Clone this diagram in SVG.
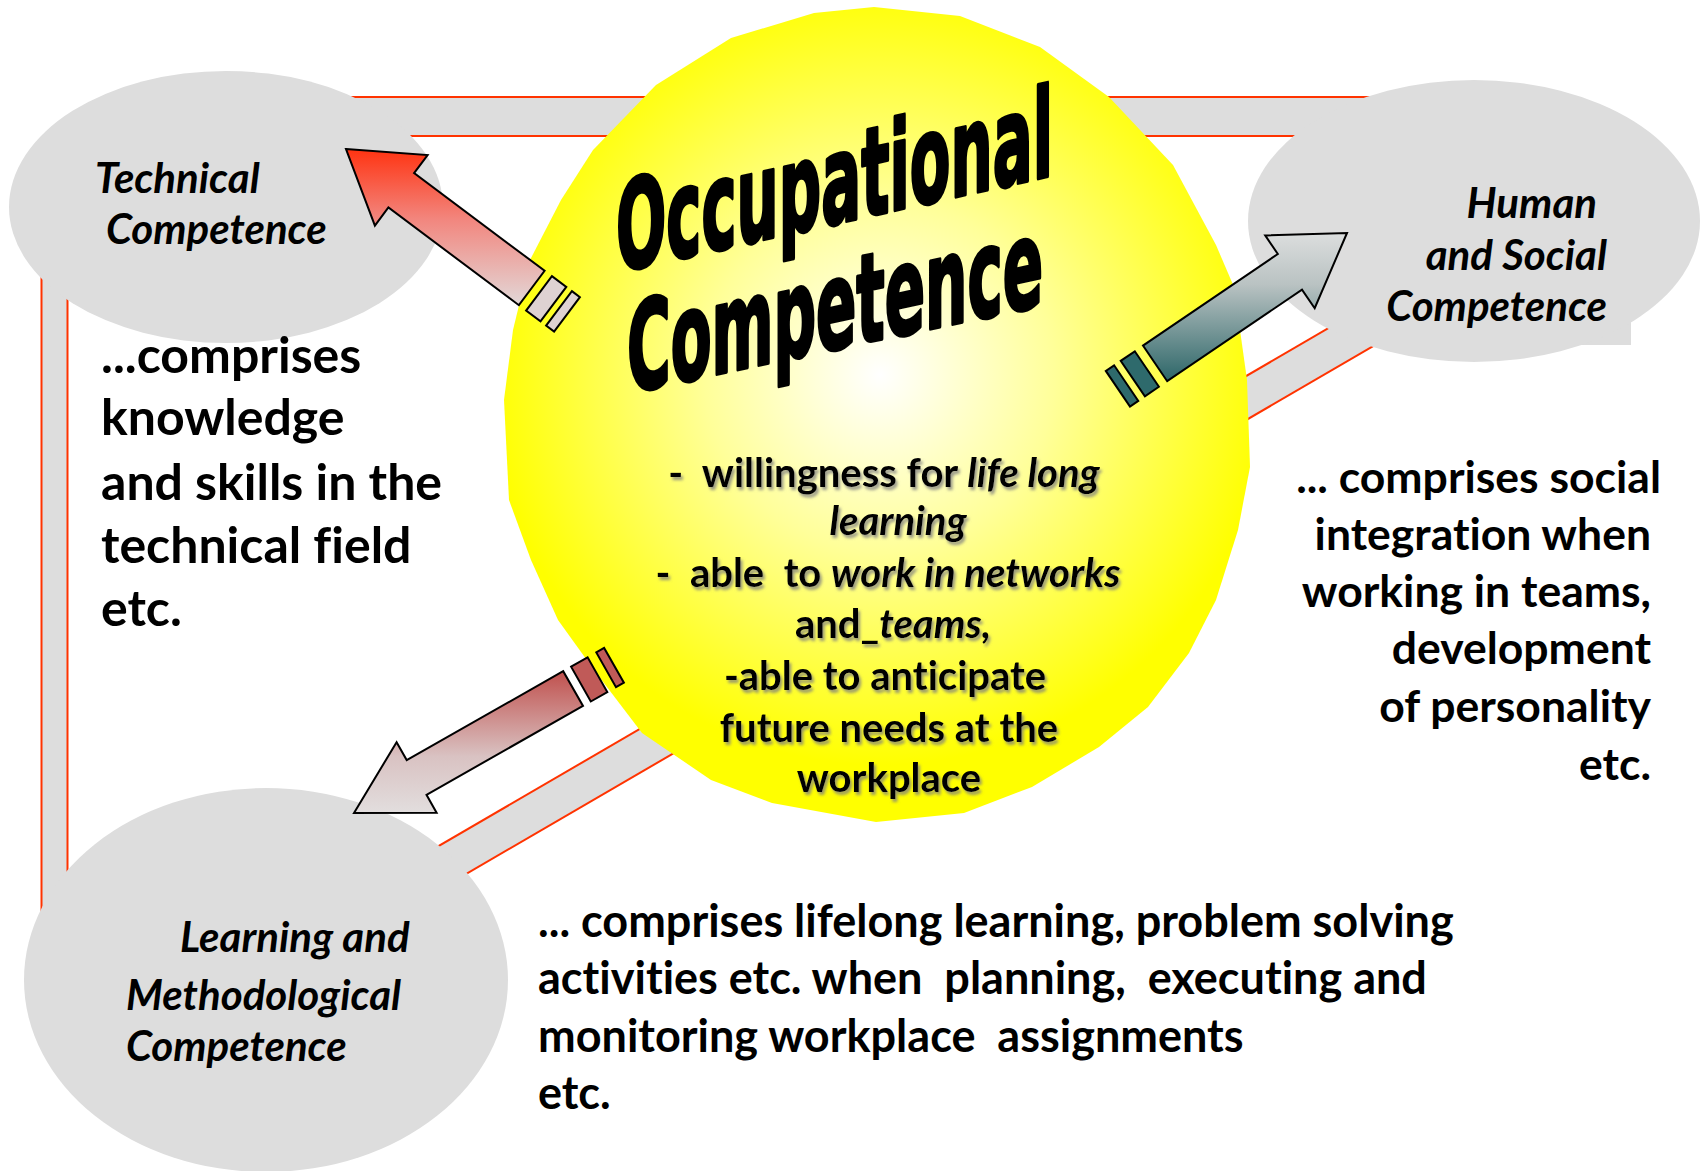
<svg xmlns="http://www.w3.org/2000/svg" width="1705" height="1171" viewBox="0 0 1705 1171">
<defs>
<style>
.band-edge{fill:none;stroke:#FF3300;stroke-linecap:butt}
.band-fill{fill:none;stroke:#DDDDDD;stroke-linecap:butt}
.bubble{fill:#DDDDDD}
.lbl{font-family:Lato,"Open Sans","Liberation Sans",sans-serif;font-weight:700;font-style:italic;font-size:42px;fill:#000;font-variant-ligatures:none}
.body{font-family:Lato,"Open Sans","Liberation Sans",sans-serif;font-weight:700;fill:#000;font-variant-ligatures:none}
.title{font-family:"DejaVu Sans","Liberation Sans",sans-serif;font-weight:700;font-size:123px;fill:#000;stroke:#000;stroke-width:4;stroke-linejoin:round}
.arrow{stroke:#000;stroke-width:2;stroke-linejoin:miter}
.it{font-style:italic}
</style>
<radialGradient id="glow" gradientUnits="userSpaceOnUse" cx="880" cy="375" r="390">
<stop offset="0" stop-color="#FFFFFF"/>
<stop offset="0.45" stop-color="#FFFF99"/>
<stop offset="1" stop-color="#FFFF00"/>
</radialGradient>
<linearGradient id="gRed" x1="0" y1="0" x2="0" y2="1">
<stop offset="0" stop-color="#FF3311"/>
<stop offset="0.45" stop-color="#F2867E"/>
<stop offset="1" stop-color="#E2D8D8"/>
</linearGradient>
<linearGradient id="gTeal" x1="0" y1="0" x2="0" y2="1">
<stop offset="0" stop-color="#DCDEDE"/>
<stop offset="0.35" stop-color="#B9C2C2"/>
<stop offset="1" stop-color="#2C6668"/>
</linearGradient>
<linearGradient id="gBrown" x1="0" y1="0" x2="0" y2="1">
<stop offset="0" stop-color="#C0504D"/>
<stop offset="0.6" stop-color="#D9C2C2"/>
<stop offset="1" stop-color="#E2DEDE"/>
</linearGradient>
<filter id="shadow" x="-10%" y="-30%" width="120%" height="160%">
<feDropShadow dx="2" dy="3" stdDeviation="1.5" flood-color="#7F7F7F" flood-opacity="0.8"/>
</filter>
</defs>
<rect width="1705" height="1171" fill="#FFFFFF"/>

<g id="frame">
<path class="band-edge" stroke-width="41" d="M200,116.5 H1500"/>
<path class="band-fill" stroke-width="37" d="M200,116.5 H1500"/>
<path class="band-edge" stroke-width="28" d="M54.5,220 V1000"/>
<path class="band-fill" stroke-width="24" d="M54.5,220 V1000"/>
<path class="band-edge" stroke-width="40" d="M350,919.6 L1450,279.4"/>
<path class="band-fill" stroke-width="36" d="M350,919.6 L1450,279.4"/>
</g>

<g id="node-technical">
<ellipse class="bubble" cx="226" cy="207" rx="217" ry="136"/>
<text class="lbl" x="95" y="193">Technical</text>
<text class="lbl" x="106" y="244">Competence</text>
</g>

<g id="node-human-social">
<rect class="bubble" x="1560" y="280" width="71" height="65"/>
<ellipse class="bubble" cx="1474" cy="221" rx="226" ry="141"/>
<text class="lbl" x="1597" y="218" text-anchor="end">Human</text>
<text class="lbl" x="1607" y="270" text-anchor="end">and Social</text>
<text class="lbl" x="1607" y="321" text-anchor="end">Competence</text>
</g>

<g id="node-learning">
<ellipse class="bubble" cx="266" cy="980" rx="242" ry="192"/>
<text class="lbl" x="180" y="952">Learning and</text>
<text class="lbl" x="126" y="1010">Methodological</text>
<text class="lbl" x="126" y="1061">Competence</text>
</g>

<g id="node-occupational">
<polygon fill="url(#glow)" points="874,7 960,16 1040,47 1109,97 1173,165 1216,245 1234,287 1247,380 1250,467 1238,530 1216,600 1189,653 1148,707 1099,747 1032,787 964,813 876,822 772,803 711,780 642,733 594,670 558,620 531,560 509,500 504,400 513,330 530,260 561,200 593,150 656,85 731,38 814,13"/>
<text class="title" x="0" y="0" transform="translate(616,272) skewY(-12.5)" textLength="437" lengthAdjust="spacingAndGlyphs">Occupational</text>
<text class="title" x="0" y="0" transform="translate(627,393) skewY(-12)" textLength="416" lengthAdjust="spacingAndGlyphs">Competence</text>
<g class="body" font-size="40" text-anchor="middle" filter="url(#shadow)">
<text xml:space="preserve" x="884" y="487">-  willingness for <tspan class="it">life long</tspan></text>
<text x="898" y="535" class="it">learning</text>
<text xml:space="preserve" x="888" y="587">-  able  to <tspan class="it">work in networks</tspan></text>
<text x="893" y="638">and_<tspan class="it">teams,</tspan></text>
<text x="885" y="690">-able to anticipate</text>
<text x="889" y="742">future needs at the</text>
<text x="889" y="792">workplace</text>
</g>
</g>

<g id="text-technical" class="body" font-size="50">
<text x="101" y="373">...comprises</text>
<text x="101" y="435">knowledge</text>
<text x="101" y="500">and skills in the</text>
<text x="101" y="563">technical field</text>
<text x="101" y="626">etc.</text>
</g>

<g id="text-human-social" class="body" font-size="44.5" text-anchor="end">
<text x="1661" y="493">... comprises social</text>
<text x="1651" y="550">integration when</text>
<text x="1651" y="607">working in teams,</text>
<text x="1651" y="664">development</text>
<text x="1651" y="722">of personality</text>
<text x="1651" y="780">etc.</text>
</g>

<g id="text-learning" class="body" font-size="45">
<text x="538" y="937">... comprises lifelong learning, problem solving</text>
<text xml:space="preserve" x="538" y="994">activities etc. when  planning,  executing and</text>
<text xml:space="preserve" x="538" y="1052">monitoring workplace  assignments</text>
<text x="538" y="1109">etc.</text>
</g>

<g id="connectors">
<g id="arrow-technical">
<polygon class="arrow" fill="url(#gRed)" points="346,149 427.6,155.1 414.1,173.1 544.6,270.8 518.9,305.2 388.4,207.5 374.9,225.6"/>
<polygon class="arrow" fill="#DED2D2" points="551.9,276.1 566.3,286.9 540.5,321.4 526.1,310.6"/>
<polygon class="arrow" fill="#DED2D2" points="571.9,291.1 579.9,297.1 554.1,331.5 546.1,325.6"/>
</g>
<g id="arrow-human-social">
<polygon class="arrow" fill="url(#gTeal)" points="1347,233 1314.7,308.2 1302,289.6 1167.2,381.2 1143,345.6 1277.8,254 1265.2,235.4"/>
<polygon class="arrow" fill="#2E6A6C" points="1158.9,386.8 1144.9,396.4 1120.7,360.8 1134.8,351.3"/>
<polygon class="arrow" fill="#2E6A6C" points="1138.3,400.9 1130,406.5 1105.8,370.9 1114.1,365.3"/>
</g>
<g id="arrow-learning">
<polygon class="arrow" fill="url(#gBrown)" points="354,813 396.6,742.2 406.7,760.1 563.2,671.2 583,705.9 426.5,794.8 436.6,812.7"/>
<polygon class="arrow" fill="#C05A58" points="571.1,666.7 587.6,657.3 607.3,692.1 590.8,701.5"/>
<polygon class="arrow" fill="#C05A58" points="596.3,652.4 604.1,647.9 623.9,682.7 616,687.2"/>
</g>
</g>
</svg>
